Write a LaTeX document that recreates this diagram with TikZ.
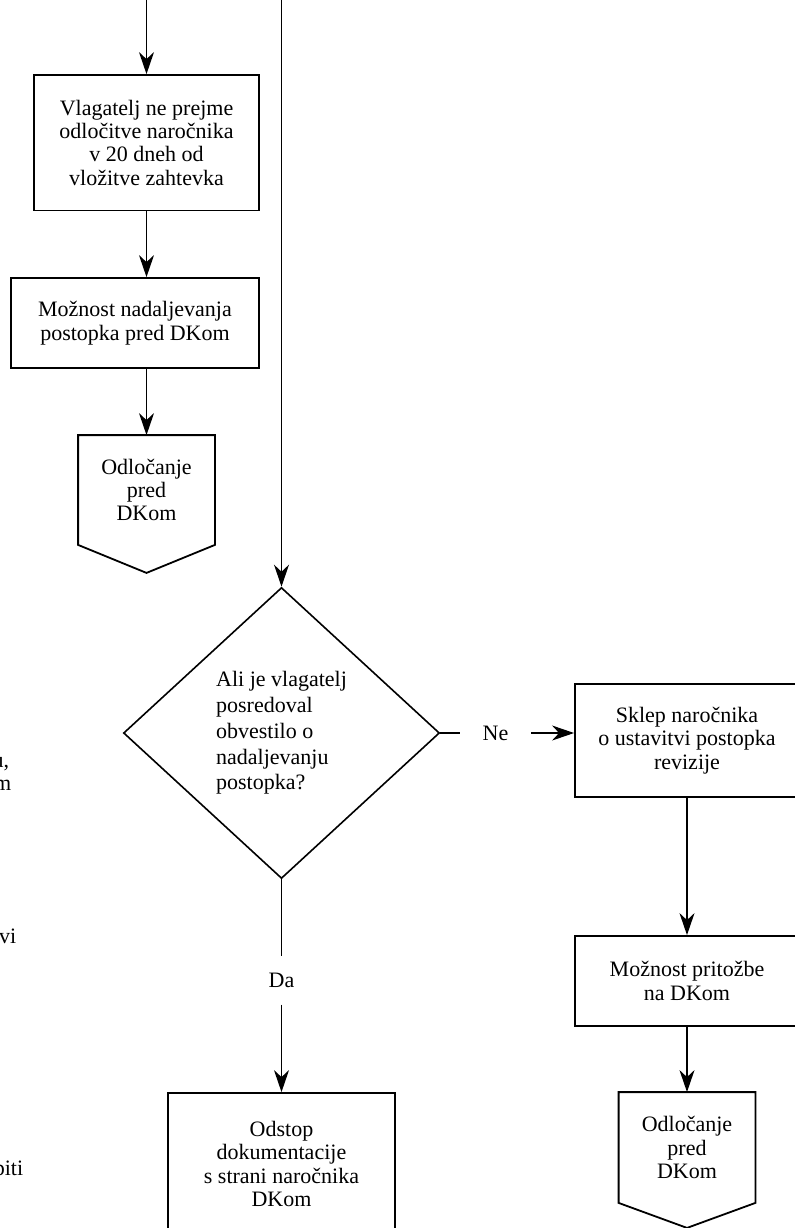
\documentclass[tikz,border=0pt]{standalone}
\usepackage{fontspec}
\setmainfont{Liberation Serif}
\usetikzlibrary{arrows.meta}
\usetikzlibrary{shapes.geometric}

\tikzset{
  okvir/.style={draw, line width=0.9pt, align=center, inner sep=0pt, font=\fontsize{11pt}{11.7pt}\selectfont},
  konec/.style={okvir, draw=none, minimum width=67.5pt, minimum height=54pt},
  vpras/.style={draw, diamond, line width=0.8pt, align=left, inner sep=0pt, minimum width=158pt, minimum height=145.5pt, font=\fontsize{11pt}{12.9pt}\selectfont},
  oznaka/.style={inner xsep=11pt, inner ysep=8pt, font=\fontsize{11pt}{11.7pt}\selectfont},
  rob/.style={anchor=base east, inner sep=0pt, font=\fontsize{11pt}{11.7pt}\selectfont}
}

\begin{document}
\begin{tikzpicture}[x=0.5pt,y=-0.5pt,line width=0.8pt,>={Stealth[length=11pt,width=7.5pt,inset=3.5pt]}]
\useasboundingbox (0,0) rectangle (795,1228);
\clip (0,0) rectangle (795,1228);

\coordinate (vhod1) at (146.5,0);											% vhod levo
\coordinate (vhod2) at (281.5,0);											% vhod sredina

\node[okvir, minimum width=112.5pt, minimum height=67.75pt] (vlagatelj) at (146.5,142.75) {Vlagatelj ne prejme\\odločitve naročnika\\v 20 dneh od\\vložitve zahtevka};
\node[okvir, minimum width=124pt, minimum height=45pt] (nadalj) at (135,323) {Možnost nadaljevanja\\postopka pred DKom};
\node[konec] (odl1) at (146.5,490) {Odločanje\\pred\\DKom};
\draw[line width=0.9pt] (odl1.north west) -- (odl1.north east) -- (odl1.south east) -- ([yshift=-14pt]odl1.south) -- (odl1.south west) -- cycle;	% odlocanje levo

\node[vpras] (vpras) at (281.5,733) {Ali je vlagatelj\\posredoval\\obvestilo o\\nadaljevanju\\postopka?};
\node[oznaka] (ne) at (495.5,733) {Ne};
\node[oznaka] (da) at (281.5,980.5) {Da};

\node[okvir, minimum width=112pt, minimum height=56.5pt] (sklep) at (687,740.5) {Sklep naročnika\\o ustavitvi postopka\\revizije};
\node[okvir, minimum width=112pt, minimum height=45pt] (pritozba) at (687,981) {Možnost pritožbe\\na DKom};
\node[konec, minimum height=54.5pt] (odl2) at (687,1147.5) {Odločanje\\pred\\DKom};
\draw[line width=0.9pt] (odl2.north west) -- (odl2.north east) -- (odl2.south east) -- ([yshift=-12.5pt]odl2.south) -- (odl2.south west) -- cycle;	% odlocanje desno

\node[okvir, minimum width=113.5pt, minimum height=71pt] (odstop) at (281.5,1164) {Odstop\\dokumentacije\\s strani naročnika\\DKom};

\node[rob] (rob1) at (10,767) {u,};										% odrezano besedilo levo
\node[rob] (rob2) at (12,790) {m};
\node[rob] (rob3) at (17,943) {vi};
\node[rob] (rob4) at (24,1175) {piti};

\draw[->] (vhod1) -- (vlagatelj);
\draw[->] (vlagatelj) -- (vlagatelj.south |- nadalj.north);
\draw[->] (vlagatelj.south |- nadalj.south) -- (odl1);
\draw[->] (vhod2) -- (vpras);
\draw (vpras) -- (ne);														% Ne
\draw[->] (ne.east) -- (sklep.west |- ne.east);
\draw (vpras) -- (da);														% Da
\draw[->] (da) -- (odstop);
\draw[->] (sklep) -- (pritozba);
\draw[->] (pritozba) -- (odl2);

\end{tikzpicture}
\end{document}
